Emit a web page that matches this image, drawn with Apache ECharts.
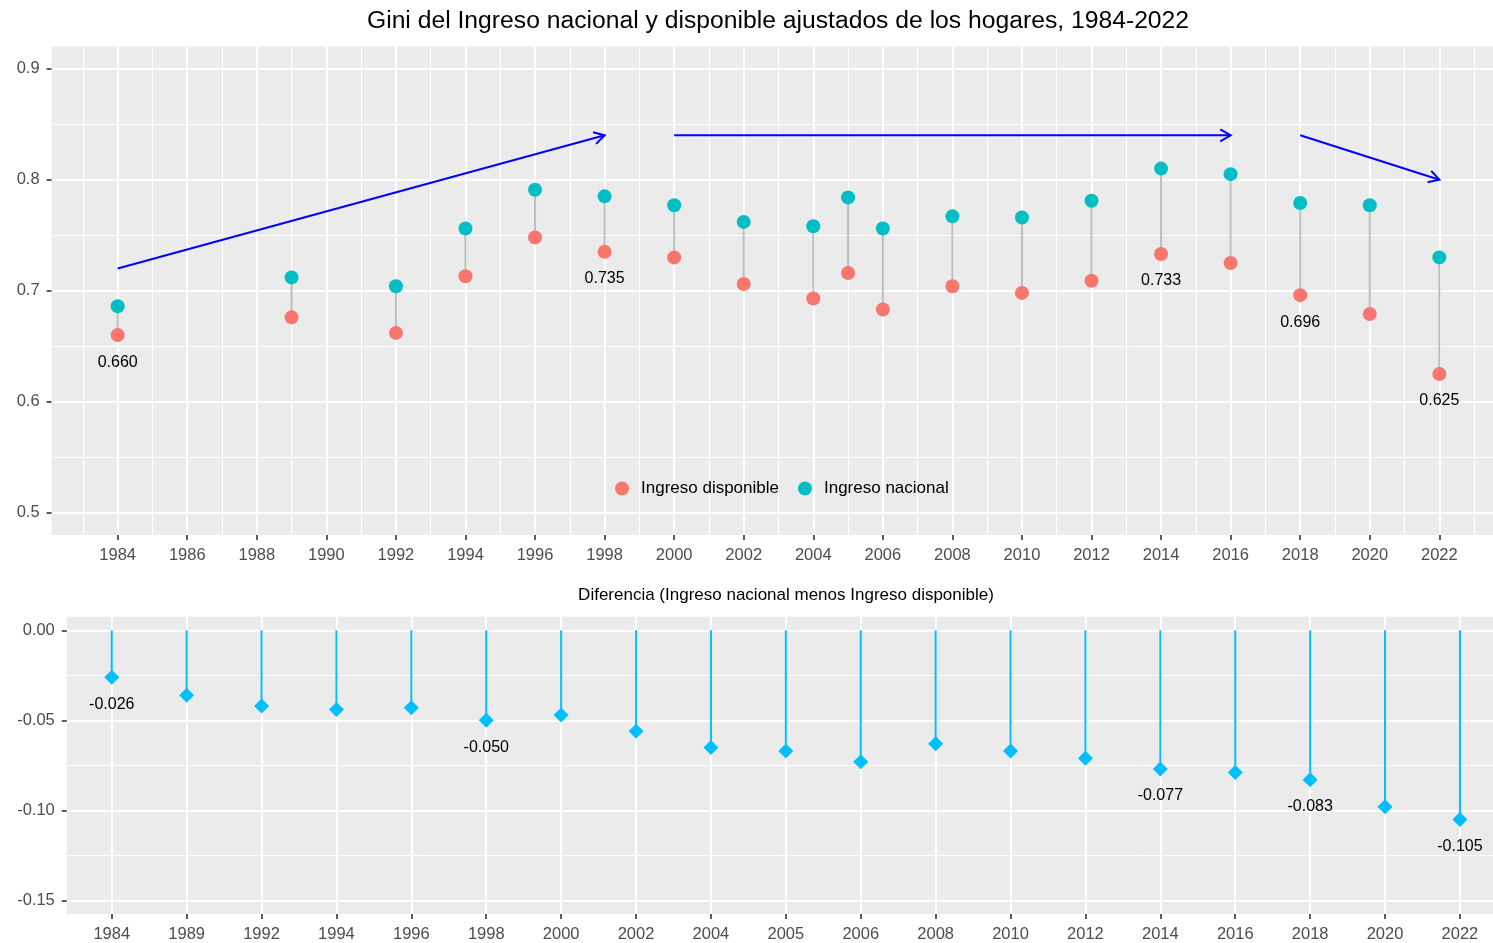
<!DOCTYPE html>
<html>
<head>
<meta charset="utf-8">
<script src="https://cdn.jsdelivr.net/npm/echarts@6/dist/echarts.min.js"></script>
<style>
html,body{margin:0;padding:0;background:#fff;}
#chart{width:1493px;height:943px;}
</style>
</head>
<body>
<div id="chart"></div>
<script>
// ---- data ----
const years = [1984,1989,1992,1994,1996,1998,2000,2002,2004,2005,2006,2008,2010,2012,2014,2016,2018,2020,2022];
const ingresoDisponible = [0.660,0.676,0.662,0.713,0.748,0.735,0.730,0.706,0.693,0.716,0.683,0.704,0.698,0.709,0.733,0.725,0.696,0.679,0.625];
const ingresoNacional   = [0.686,0.712,0.704,0.756,0.791,0.785,0.777,0.762,0.758,0.784,0.756,0.767,0.766,0.781,0.810,0.805,0.779,0.777,0.730];
const diferencia        = [-0.026,-0.036,-0.042,-0.044,-0.043,-0.050,-0.047,-0.056,-0.065,-0.067,-0.073,-0.063,-0.067,-0.071,-0.077,-0.079,-0.083,-0.098,-0.105];
const labelYears = [1984,1998,2014,2018,2022];

// trend arrows (annotations)
const arrowFromYear  = [1984, 2000, 2018];
const arrowFromValue = [0.72, 0.84, 0.84];
const arrowToYear    = [1998, 2016, 2022];
const arrowToValue   = [0.84, 0.84, 0.80];

// tick labels
const topXTicks = [1984,1986,1988,1990,1992,1994,1996,1998,2000,2002,2004,2006,2008,2010,2012,2014,2016,2018,2020,2022];
const topXMinor = [1983,1985,1987,1989,1991,1993,1995,1997,1999,2001,2003,2005,2007,2009,2011,2013,2015,2017,2019,2021,2023];
const topYTicks = [0.5,0.6,0.7,0.8,0.9];
const topYMinor = [0.55,0.65,0.75,0.85];
const botYTicks = [0,-0.05,-0.10,-0.15];
const botYMinor = [-0.025,-0.075,-0.125];

const titleText = 'Gini del Ingreso nacional y disponible ajustados de los hogares, 1984-2022';
const subtitleText = 'Diferencia (Ingreso nacional menos Ingreso disponible)';
const seriesNames = ['Ingreso disponible','Ingreso nacional'];

// ---- styling ----
const FONT = "'Liberation Sans', Arial, sans-serif";
const PANEL = '#EBEBEB';
const RED = '#F8766D', TEAL = '#00BFC4', SKY = '#00BFFF';
const catIdx = years.map((y,i)=>i);
const W = 1493;

const chart = echarts.init(document.getElementById('chart'), null, {renderer:'canvas'});

function tickStyle(vals){
  return {show:true, length:5, inside:false, lineStyle:{color:'#333333', width:1.6}, customValues:vals};
}
function labelStyle(vals, fmt){
  return {show:true, color:'#4D4D4D', fontSize:16.5, fontFamily:FONT, margin:12, customValues:vals, formatter:fmt};
}
function majorAxis(gridIndex, min, max, ticks, fmt){
  return {
    type:'value', gridIndex, min, max,
    axisLine:{show:false, onZero:false},
    axisTick:tickStyle(ticks),
    axisLabel:labelStyle(ticks, fmt),
    splitLine:{show:true, lineStyle:{color:'#FFFFFF', width:2}}
  };
}
function minorAxis(gridIndex, min, max, vals){
  return {
    type:'value', gridIndex, min, max, show:true,
    axisLine:{show:false, onZero:false}, axisLabel:{show:false},
    axisTick:{show:false, customValues: vals},
    splitLine:{show:true, lineStyle:{color:'#FFFFFF', width:1}}
  };
}

// top panel scale: 34.78 px per year, 1110 px per unit
const G0L = 51.6, G0T = 46.5, PXY0 = 34.78, PXV0 = 1110;
const X0MIN = 1982.1, X0MAX = X0MIN + (W - G0L)/PXY0;
const Y0MIN = 0.48, Y0MAX = 0.92;
// bottom panel scale: 74.9 px per category, 1802.7 px per unit
const G1L = 66.8, G1T = 616.8, PXY1 = 74.9, PXV1 = 1802.7;
const X1MIN = -0.6, X1MAX = X1MIN + (W - G1L)/PXY1;
const Y1MIN = -0.1575, Y1MAX = 0.0075;

const option = {
  animation:false,
  backgroundColor:'#FFFFFF',
  graphic:[
    {type:'text', x:778, y:21, style:{text:titleText, fill:'#000', font:"24.7px "+FONT, textAlign:'center', textVerticalAlign:'middle'}},
    {type:'text', x:786, y:595.5, style:{text:subtitleText, fill:'#000', font:"17px "+FONT, textAlign:'center', textVerticalAlign:'middle'}}
  ],
  legend:{
    data:seriesNames,
    left:610, top:475,
    itemWidth:28, itemHeight:14, itemGap:19,
    icon:'circle',
    textStyle:{color:'#000', fontSize:17, fontFamily:FONT}
  },
  grid:[
    {left:G0L, top:G0T, right:0, height:(Y0MAX-Y0MIN)*PXV0, show:true, backgroundColor:PANEL, borderWidth:0},
    {left:G1L, top:G1T, right:0, height:(Y1MAX-Y1MIN)*PXV1, show:true, backgroundColor:PANEL, borderWidth:0}
  ],
  xAxis:[
    majorAxis(0, X0MIN, X0MAX, topXTicks, (v)=>String(Math.round(v))),
    minorAxis(0, X0MIN, X0MAX, topXMinor),
    majorAxis(1, X1MIN, X1MAX, catIdx, (v)=>String(years[Math.round(v)]))
  ],
  yAxis:[
    majorAxis(0, Y0MIN, Y0MAX, topYTicks, (v)=>v.toFixed(1)),
    minorAxis(0, Y0MIN, Y0MAX, topYMinor),
    majorAxis(1, Y1MIN, Y1MAX, botYTicks, (v)=>v.toFixed(2)),
    minorAxis(1, Y1MIN, Y1MAX, botYMinor)
  ],
  series:[
    {
      type:'custom', name:'stems', xAxisIndex:0, yAxisIndex:0, silent:true, z:2,
      data: years.map((y,i)=>[y, ingresoDisponible[i], ingresoNacional[i]]),
      encode:{x:0, y:[1,2]},
      renderItem:(params, api)=>{
        const a = api.coord([api.value(0), api.value(1)]);
        const b = api.coord([api.value(0), api.value(2)]);
        return {type:'line', shape:{x1:a[0],y1:a[1],x2:b[0],y2:b[1]}, style:{stroke:'#BEBEBE', lineWidth:2}};
      }
    },
    {
      type:'scatter', name:seriesNames[0], xAxisIndex:0, yAxisIndex:0, z:3,
      symbol:'circle', symbolSize:14, itemStyle:{color:RED, opacity:1},
      data: years.map((y,i)=>({
        value:[y, ingresoDisponible[i]],
        label:{show: labelYears.includes(y)}
      })),
      label:{position:'inside', offset:[0,27], color:'#000', fontSize:16, fontFamily:FONT,
        formatter:(p)=>p.value[1].toFixed(3)}
    },
    {
      type:'scatter', name:seriesNames[1], xAxisIndex:0, yAxisIndex:0, z:3,
      symbol:'circle', symbolSize:14, itemStyle:{color:TEAL, opacity:1},
      data: years.map((y,i)=>[y, ingresoNacional[i]])
    },
    {
      type:'custom', name:'arrows', xAxisIndex:0, yAxisIndex:0, silent:true, z:4,
      data: arrowFromYear.map((y,i)=>[y, arrowFromValue[i], arrowToYear[i], arrowToValue[i]]),
      encode:{x:[0,2], y:[1,3]},
      renderItem:(params, api)=>{
        const a = api.coord([api.value(0), api.value(1)]);
        const b = api.coord([api.value(2), api.value(3)]);
        const ang = Math.atan2(b[1]-a[1], b[0]-a[0]);
        const L = 12, spread = Math.PI/6;
        const h1 = [b[0]-L*Math.cos(ang-spread), b[1]-L*Math.sin(ang-spread)];
        const h2 = [b[0]-L*Math.cos(ang+spread), b[1]-L*Math.sin(ang+spread)];
        return {type:'group', children:[
          {type:'line', shape:{x1:a[0],y1:a[1],x2:b[0],y2:b[1]}, style:{stroke:'#0000FF', lineWidth:2}},
          {type:'polyline', shape:{points:[h1,b,h2]}, style:{stroke:'#0000FF', lineWidth:2, fill:null}}
        ]};
      }
    },
    {
      type:'custom', name:'difStems', xAxisIndex:2, yAxisIndex:2, silent:true, z:2,
      data: diferencia.map((d,i)=>[i, d]),
      encode:{x:0, y:1},
      renderItem:(params, api)=>{
        const a = api.coord([api.value(0), 0]);
        const b = api.coord([api.value(0), api.value(1)]);
        return {type:'line', shape:{x1:a[0],y1:a[1],x2:b[0],y2:b[1]}, style:{stroke:SKY, lineWidth:2}};
      }
    },
    {
      type:'scatter', name:'Diferencia', xAxisIndex:2, yAxisIndex:2, z:3,
      symbol:'diamond', symbolSize:15, itemStyle:{color:SKY, opacity:1},
      data: diferencia.map((d,i)=>({
        value:[i, d],
        label:{show: labelYears.includes(years[i])}
      })),
      label:{position:'inside', offset:[0,27], color:'#000', fontSize:16, fontFamily:FONT,
        formatter:(p)=>p.value[1].toFixed(3)}
    }
  ]
};
chart.setOption(option);
</script>
</body>
</html>
